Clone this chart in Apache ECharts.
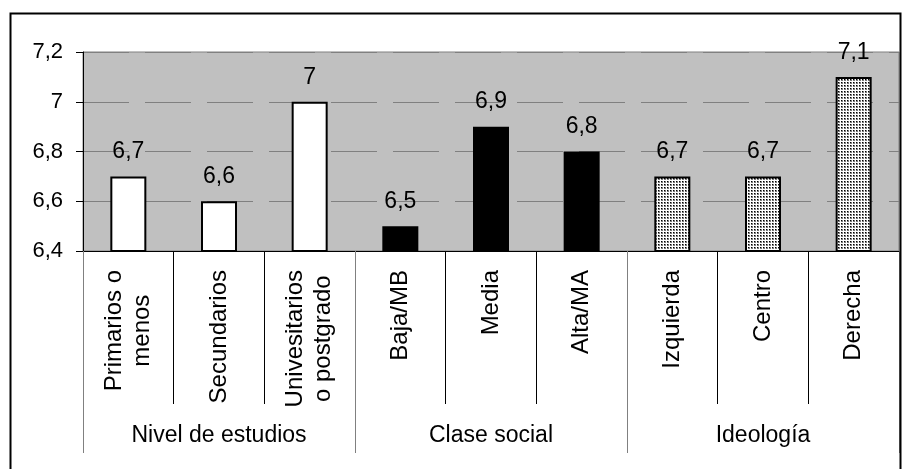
<!DOCTYPE html>
<html>
<head>
<meta charset="utf-8">
<script src="https://cdn.jsdelivr.net/npm/echarts@6/dist/echarts.min.js"></script>
<style>
  html, body { margin: 0; padding: 0; background: #ffffff; }
  #chart { width: 902px; height: 469px; }
</style>
</head>
<body>
<div id="chart"></div>
<script>
// Categories (line breaks mark the two-line labels), values and group headings
const categories = [
  'Primarios o\nmenos', 'Secundarios', 'Univesitarios\no postgrado',
  'Baja/MB', 'Media', 'Alta/MA',
  'Izquierda', 'Centro', 'Derecha'
];
const values = [6.7, 6.6, 7.0, 6.5, 6.9, 6.8, 6.7, 6.7, 7.1];
const groups = ['Nivel de estudios', 'Clase social', 'Ideología'];
const groupOfCategory = [0, 0, 0, 1, 1, 1, 2, 2, 2];

// Value axis range
const yMin = 6.4;
const yMax = 7.2;
const yStep = 0.2;

const FONT = "'Liberation Sans', Arial, sans-serif";

// Decimal comma, no trailing zero ("7" rather than "7,0")
const fmt = v => String(+(+v).toFixed(1)).replace('.', ',');

// Fine dotted fill for the third group
function makeDots() {
  const c = document.createElement('canvas');
  c.width = 3; c.height = 3;
  const g = c.getContext('2d');
  g.fillStyle = '#ffffff'; g.fillRect(0, 0, 3, 3);
  g.fillStyle = '#7a7a7a'; g.fillRect(1, 1, 2, 2);
  g.fillStyle = '#000000'; g.fillRect(1, 1, 1, 1);
  return c;
}
const groupFills = ['#ffffff', '#000000', { image: makeDots(), repeat: 'repeat' }];

const chart = echarts.init(document.getElementById('chart'), null, { renderer: 'canvas' });

chart.setOption({
  animation: false,
  backgroundColor: '#ffffff',
  textStyle: { fontFamily: FONT, color: '#000' },
  graphic: [{
    type: 'rect',
    shape: { x: 10.5, y: 13.5, width: 890, height: 480 },
    style: { fill: null, stroke: '#000', lineWidth: 2 },
    silent: true,
    z: 100
  }],
  grid: {
    left: 83, top: 52, right: 3, bottom: 218,
    show: true,
    backgroundColor: '#c0c0c0',
    borderColor: '#808080',
    borderWidth: 1
  },
  xAxis: [{
    type: 'category',
    data: categories,
    position: 'bottom',
    axisLine: { show: true, lineStyle: { color: '#000', width: 1 } },
    axisTick: { show: true, length: 153, lineStyle: { color: '#000', width: 1 } },
    axisLabel: {
      interval: 0,
      rotate: 90,
      margin: 19,
      hideOverlap: false,
      color: '#000',
      fontFamily: FONT,
      fontSize: 24,
      lineHeight: 28,
      formatter: v => v.split('\n').map(s => '{c|' + s + '}').join('\n'),
      rich: {
        c: { align: 'center', fontFamily: FONT, fontSize: 24, lineHeight: 28, color: '#000' }
      }
    },
    splitLine: { show: false }
  }, {
    type: 'category',
    data: groups,
    position: 'bottom',
    axisLine: { show: false },
    axisTick: { show: true, length: 202, lineStyle: { color: '#808080', width: 1 } },
    axisLabel: {
      interval: 0,
      margin: 173,
      color: '#000',
      fontFamily: FONT,
      fontSize: 23
    },
    splitLine: { show: false }
  }],
  yAxis: {
    type: 'value',
    min: yMin,
    max: yMax,
    interval: yStep,
    axisLine: { show: true, lineStyle: { color: '#000', width: 1 } },
    axisTick: { show: true, length: 7, lineStyle: { color: '#000', width: 1 } },
    axisLabel: {
      margin: 20,
      color: '#000',
      fontFamily: FONT,
      fontSize: 22,
      formatter: fmt
    },
    splitLine: {
      show: true,
      lineStyle: { color: '#808080', width: 1, type: [46, 16] }
    }
  },
  series: [{
    type: 'bar',
    xAxisIndex: 0,
    barWidth: 36,
    data: values.map((v, i) => ({
      value: v,
      itemStyle: { color: groupFills[groupOfCategory[i]] }
    })),
    itemStyle: { borderColor: '#000', borderWidth: 2 },
    label: {
      show: true,
      position: 'top',
      distance: 13,
      color: '#000',
      fontFamily: FONT,
      fontSize: 23,
      formatter: p => fmt(p.value)
    }
  }]
});
</script>
</body>
</html>
